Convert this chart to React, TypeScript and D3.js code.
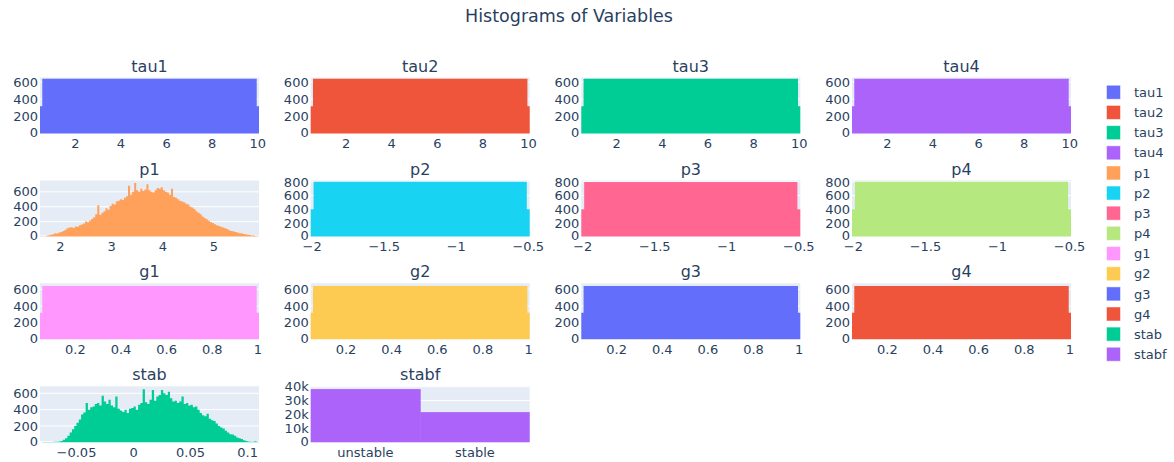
import React from 'react';
import * as d3 from 'd3';

// ---------- data ----------
const varNames = ['tau1', 'tau2', 'tau3', 'tau4', 'p1', 'p2', 'p3', 'p4', 'g1', 'g2', 'g3', 'g4', 'stab', 'stabf'];
const palette = ['#636efa', '#EF553B', '#00cc96', '#ab63fa', '#FFA15A', '#19d3f3', '#FF6692', '#B6E880', '#FF97FF', '#FECB52', '#636efa', '#EF553B', '#00cc96', '#ab63fa'];

// uniform variables: bin edges (half-bins at both ends) and counts
const tauEdges = [0.45, 0.55, 9.95, 10.05];
const tau1Counts = [318, 636, 318];
const tau2Counts = [318, 636, 318];
const tau3Counts = [318, 636, 318];
const tau4Counts = [318, 636, 318];

const pEdges = [-2.01, -1.99, -0.51, -0.49];
const p2Counts = [400, 800, 400];
const p3Counts = [400, 798, 400];
const p4Counts = [400, 800, 400];

const gEdges = [0.045, 0.055, 0.995, 1.005];
const g1Counts = [320, 640, 320];
const g2Counts = [320, 640, 320];
const g3Counts = [320, 640, 320];
const g4Counts = [320, 640, 320];

const p1Start = 1.6;
const p1BinSize = 0.04;
const p1Counts = [
  2, 3, 5, 10, 18,
  25, 30, 45, 40, 55,
  60, 75, 90, 110, 120,
  125, 115, 135, 130, 150,
  160, 175, 200, 190, 215,
  240, 260, 300, 420, 290,
  320, 340, 380, 360, 410,
  440, 430, 470, 480, 500,
  490, 520, 540, 680, 560,
  600, 720, 620, 600, 640,
  610, 630, 700, 620, 600,
  590, 620, 650, 640, 660,
  620, 600, 590, 560, 640,
  530, 520, 500, 480, 470,
  460, 440, 430, 400, 390,
  370, 340, 320, 300, 270,
  250, 230, 210, 190, 180,
  165, 150, 140, 130, 120,
  110, 100, 85, 75, 70,
  60, 55, 45, 42, 35,
  30, 25, 20, 15, 12,
  8, 5,
];

const stabStart = -0.082;
const stabBinSize = 0.002;
const stabCounts = [
  2, 3, 5, 3, 4,
  5, 6, 8, 10, 15,
  30, 50, 80, 120, 160,
  200, 240, 280, 340, 365,
  480, 400, 430, 440, 470,
  480, 450, 570, 500, 470,
  520, 450, 430, 560, 410,
  390, 370, 400, 360, 410,
  420, 440, 400, 460, 480,
  650, 490, 470, 520, 640,
  510, 560, 580, 640, 600,
  580, 620, 540, 500, 510,
  480, 500, 560, 470, 480,
  450, 460, 430, 440, 400,
  360, 330, 320, 350, 290,
  270, 260, 230, 200, 180,
  170, 140, 120, 100, 95,
  80, 60, 50, 40, 25,
  15, 10, 8, 6, 12,
  5,
];

const stabfCategories = ['unstable', 'stable'];
const stabfCounts = [38280, 21720];

// ticks
const tauTicks = [2, 4, 6, 8, 10];
const tauTickLabels = ['2', '4', '6', '8', '10'];
const pTicks = [-2, -1.5, -1, -0.5];
const pTickLabels = ['\u22122', '\u22121.5', '\u22121', '\u22120.5'];
const p1Ticks = [2, 3, 4, 5];
const p1TickLabels = ['2', '3', '4', '5'];
const gTicks = [0.2, 0.4, 0.6, 0.8, 1];
const gTickLabels = ['0.2', '0.4', '0.6', '0.8', '1'];
const stabTicks = [-0.05, 0, 0.05, 0.1];
const stabTickLabels = ['\u22120.05', '0', '0.05', '0.1'];
const yTicks600 = [0, 200, 400, 600];
const yTicks800 = [0, 200, 400, 600, 800];
const yTicksStabf = [0, 10000, 20000, 30000, 40000];
const yTicksStabfLabels = ['0', '10k', '20k', '30k', '40k'];

// ---------- layout ----------
const W = 1174;
const H = 462;
const PW = 219;
const PH = 56;
const colLeft = [40, 310.7, 581.3, 852];
const rowTop = [77.5, 180.5, 283.3, 386.3];
const FONT = "'DejaVu Sans', Verdana, sans-serif";
const TXT = '#2a3f5f';
const BG = '#E5ECF6';

type Spec = {
  name: string;
  color: string;
  row: number;
  col: number;
  edges?: number[];
  counts: number[];
  cats?: string[];
  xDomain?: [number, number];
  xTicks?: number[];
  xLabels: string[];
  yMax: number;
  yTicks: number[];
  yLabels?: string[];
};

const binEdges = (start: number, size: number, n: number) =>
  d3.range(n + 1).map((i) => +(start + i * size).toFixed(6));

const specs: Spec[] = [
  { name: 'tau1', color: palette[0], row: 0, col: 0, edges: tauEdges, counts: tau1Counts, xDomain: [0.45, 10.05], xTicks: tauTicks, xLabels: tauTickLabels, yMax: 652, yTicks: yTicks600 },
  { name: 'tau2', color: palette[1], row: 0, col: 1, edges: tauEdges, counts: tau2Counts, xDomain: [0.45, 10.05], xTicks: tauTicks, xLabels: tauTickLabels, yMax: 652, yTicks: yTicks600 },
  { name: 'tau3', color: palette[2], row: 0, col: 2, edges: tauEdges, counts: tau3Counts, xDomain: [0.45, 10.05], xTicks: tauTicks, xLabels: tauTickLabels, yMax: 652, yTicks: yTicks600 },
  { name: 'tau4', color: palette[3], row: 0, col: 3, edges: tauEdges, counts: tau4Counts, xDomain: [0.45, 10.05], xTicks: tauTicks, xLabels: tauTickLabels, yMax: 652, yTicks: yTicks600 },
  { name: 'p1', color: palette[4], row: 1, col: 0, edges: binEdges(p1Start, p1BinSize, p1Counts.length), counts: p1Counts, xDomain: [1.6, 5.88], xTicks: p1Ticks, xLabels: p1TickLabels, yMax: 752, yTicks: yTicks600 },
  { name: 'p2', color: palette[5], row: 1, col: 1, edges: pEdges, counts: p2Counts, xDomain: [-2.01, -0.49], xTicks: pTicks, xLabels: pTickLabels, yMax: 820, yTicks: yTicks800 },
  { name: 'p3', color: palette[6], row: 1, col: 2, edges: pEdges, counts: p3Counts, xDomain: [-2.01, -0.49], xTicks: pTicks, xLabels: pTickLabels, yMax: 820, yTicks: yTicks800 },
  { name: 'p4', color: palette[7], row: 1, col: 3, edges: pEdges, counts: p4Counts, xDomain: [-2.01, -0.49], xTicks: pTicks, xLabels: pTickLabels, yMax: 820, yTicks: yTicks800 },
  { name: 'g1', color: palette[8], row: 2, col: 0, edges: gEdges, counts: g1Counts, xDomain: [0.045, 1.005], xTicks: gTicks, xLabels: gTickLabels, yMax: 672, yTicks: yTicks600 },
  { name: 'g2', color: palette[9], row: 2, col: 1, edges: gEdges, counts: g2Counts, xDomain: [0.045, 1.005], xTicks: gTicks, xLabels: gTickLabels, yMax: 672, yTicks: yTicks600 },
  { name: 'g3', color: palette[10], row: 2, col: 2, edges: gEdges, counts: g3Counts, xDomain: [0.045, 1.005], xTicks: gTicks, xLabels: gTickLabels, yMax: 672, yTicks: yTicks600 },
  { name: 'g4', color: palette[11], row: 2, col: 3, edges: gEdges, counts: g4Counts, xDomain: [0.045, 1.005], xTicks: gTicks, xLabels: gTickLabels, yMax: 672, yTicks: yTicks600 },
  { name: 'stab', color: palette[12], row: 3, col: 0, edges: binEdges(stabStart, stabBinSize, stabCounts.length), counts: stabCounts, xDomain: [-0.082, 0.110], xTicks: stabTicks, xLabels: stabTickLabels, yMax: 686, yTicks: yTicks600 },
  { name: 'stabf', color: palette[13], row: 3, col: 1, cats: stabfCategories, counts: stabfCounts, xLabels: stabfCategories, yMax: 40300, yTicks: yTicksStabf, yLabels: yTicksStabfLabels },
];

function Subplot({ s }: { s: Spec }) {
  const left = colLeft[s.col];
  const top = rowTop[s.row];
  const bottom = top + PH;
  const y = d3.scaleLinear().domain([0, s.yMax]).range([bottom, top]);

  let marks: React.ReactNode = null;
  let xTickEls: React.ReactNode[] = [];

  if (s.cats) {
    const xb = d3.scaleBand<string>().domain(s.cats).range([left, left + PW]).padding(0);
    marks = s.cats.map((c, i) => (
      <rect key={c} x={xb(c)!} y={y(s.counts[i])} width={xb.bandwidth() + (i < s.cats!.length - 1 ? 0.5 : 0)} height={y(0) - y(s.counts[i])} fill={s.color} />
    ));
    xTickEls = s.cats.map((c) => (
      <text key={c} x={xb(c)! + xb.bandwidth() / 2} y={bottom + 14.2} textAnchor="middle">{c}</text>
    ));
  } else {
    const x = d3.scaleLinear().domain(s.xDomain!).range([left, left + PW]);
    const edges = s.edges!;
    const pts: [number, number][] = edges.map((e, i) => [e, s.counts[Math.min(i, s.counts.length - 1)]]);
    const area = d3.area<[number, number]>()
      .x((d) => x(d[0]))
      .y0(y(0))
      .y1((d) => y(d[1]))
      .curve(d3.curveStepAfter);
    marks = <path d={area(pts) || ''} fill={s.color} />;
    xTickEls = s.xTicks!.map((t, i) => (
      <text key={t} x={x(t)} y={bottom + 14.2} textAnchor="middle">{s.xLabels[i]}</text>
    ));
  }

  return (
    <g>
      <rect x={left} y={top} width={PW} height={PH} fill={BG} />
      {s.yTicks.map((t) => (
        <line key={t} x1={left} x2={left + PW} y1={y(t)} y2={y(t)} stroke="#ffffff" strokeWidth={t === 0 ? 2 : 1} />
      ))}
      {marks}
      <g fontFamily={FONT} fontSize={13} fill={TXT}>
        {s.yTicks.map((t, i) => (
          <text key={t} x={left - 2} y={y(t)} dy={t === 0 ? '0.3em' : '0.36em'} textAnchor="end">
            {s.yLabels ? s.yLabels[i] : String(t)}
          </text>
        ))}
        {xTickEls}
      </g>
      <text x={left + PW / 2} y={top - 6} textAnchor="middle" fontFamily={FONT} fontSize={16} fill={TXT}>
        {s.name}
      </text>
    </g>
  );
}

export default function App() {
  const legendY = d3.scaleLinear().domain([0, varNames.length - 1]).range([92.3, 354.3]);
  return (
    <div style={{ position: 'absolute', left: 0, top: 0, width: W, height: H, background: '#fff' }}>
      <svg width={W} height={H} viewBox={`0 0 ${W} ${H}`} style={{ display: 'block' }}>
        <rect x={0} y={0} width={W} height={H} fill="#ffffff" />
        <text x={569} y={22} textAnchor="middle" fontFamily={FONT} fontSize={17.5} fill={TXT}>
          Histograms of Variables
        </text>
        {specs.map((s) => (
          <Subplot key={s.name} s={s} />
        ))}
        <g fontFamily={FONT} fontSize={13} fill={TXT}>
          {varNames.map((n, i) => (
            <g key={n}>
              <rect x={1107} y={legendY(i) - 6.5} width={13} height={13} fill={palette[i]} stroke={palette[i]} strokeOpacity={0.5} />
              <text x={1134} y={legendY(i)} dy="0.36em">{n}</text>
            </g>
          ))}
        </g>
      </svg>
    </div>
  );
}
